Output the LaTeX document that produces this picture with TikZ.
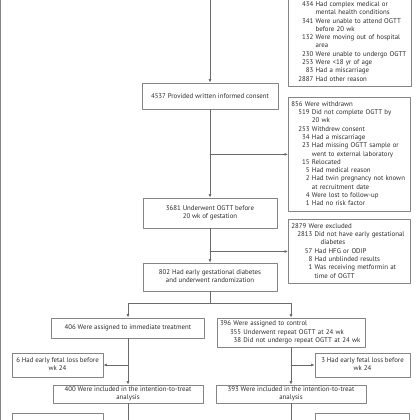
\documentclass[tikz,border=0pt]{standalone}
\usepackage{fontspec}
\setmainfont{PT Sans}
\usetikzlibrary{arrows.meta,positioning}

\definecolor{linegray}{HTML}{6A6A6A}
\definecolor{boxgray}{HTML}{858585}
\definecolor{txtgray}{HTML}{2A2A2A}

\tikzset{
  flowbox/.style={draw=boxgray, line width=0.8pt, text=txtgray,
    font=\fontsize{6.85}{8.3}\selectfont, align=center, inner sep=0pt},
  listbox/.style={draw=boxgray, line width=0.8pt, text=txtgray,
    font=\fontsize{6.85}{8.3}\selectfont, align=left, inner xsep=3pt, inner ysep=3pt},
  flow/.style={draw=linegray, line width=0.8pt},
  flowarr/.style={flow, -{Latex[length=3.5pt,width=3pt]}}
}
\newcommand{\hd}[1]{\multicolumn{2}{@{}l@{}}{#1}}
\newcommand{\twoline}[2]{\begin{tabular}{@{}c@{}}#1\\#2\end{tabular}}
\newenvironment{exlist}[1][7pt]{\begin{tabular}{@{\hspace{#1}}r@{\hspace{2.3pt}}l@{}}}{\end{tabular}}

\begin{document}
\begin{tikzpicture}[x=1pt,y=-1pt,line cap=round,line join=round]
  \path[use as bounding box,clip] (0,0) rectangle (420,420);
  % frame
  \draw[boxgray,line width=0.9pt] (0.8,-5) -- (0.8,425);

  % main column
  \node[flowbox, minimum width=136pt, minimum height=26pt] (consent) at (210,96) {4537 Provided written informed consent};
  \node[flowbox, minimum width=134pt, minimum height=30pt] (ogtt) at (210,213) {\twoline{3681 Underwent OGTT before}{20 wk of gestation}};
  \node[flowbox, minimum width=134pt, minimum height=28pt] (rand) at (210,277) {\twoline{802 Had early gestational diabetes}{and underwent randomization}};

  % exclusions on the right
  \node[listbox, text width=117pt, anchor=south west] (notelig) at (288,87) {\begin{exlist}
    \hd{\strut}\\
    & \strut\\
    434 & Had complex medical or\\
        & mental health conditions\\
    341 & Were unable to attend OGTT\\
        & before 20 wk\\
    132 & Were moving out of hospital\\
        & area\\
    230 & Were unable to undergo OGTT\\
    253 & Were <18 yr of age\\
    83 & Had a miscarriage\\
    2887 & Had other reason
  \end{exlist}};
  \node[listbox, text width=116pt, anchor=north west] (wd) at (288,97) {\begin{exlist}
    \hd{856 Were withdrawn}\\
    519 & Did not complete OGTT by\\
        & 20 wk\\
    253 & Withdrew consent\\
    34 & Had a miscarriage\\
    23 & Had missing OGTT sample or\\
       & went to external laboratory\\
    15 & Relocated\\
    5 & Had medical reason\\
    2 & Had twin pregnancy not known\\
      & at recruitment date\\
    4 & Were lost to follow-up\\
    1 & Had no risk factor
  \end{exlist}};
  \node[listbox, text width=116pt, anchor=north west] (exc) at (288,219) {\begin{exlist}[6pt]
    \hd{2879 Were excluded}\\
    2813 & Did not have early gestational\\
         & \hspace{6pt}diabetes\\
    57 & Had HFG or ODIP\\
    8 & Had unblinded results\\
    1 & Was receiving metformin at\\
      & time of OGTT
  \end{exlist}};

  % two arms
  \node[flowbox, minimum width=153pt, minimum height=20pt] (treat) at (128,328) {406 Were assigned to immediate treatment};
  \node[listbox, text width=142pt, inner xsep=3pt, inner ysep=2pt, minimum height=29pt] (ctrl) at (291,332.5) {\begin{exlist}[10pt]
    \hd{396 Were assigned to control}\\
    355 & Underwent repeat OGTT at 24 wk\\
    38 & Did not undergo repeat OGTT at 24 wk
  \end{exlist}};
  \node[flowbox, minimum width=91pt, minimum height=24pt] (loss1) at (57.5,365) {\twoline{6 Had early fetal loss before}{wk 24}};
  \node[flowbox, minimum width=95pt, minimum height=24pt] (loss2) at (362.5,365) {\twoline{3 Had early fetal loss before}{wk 24}};
  \node[flowbox, minimum width=150pt, minimum height=18pt] (itt1) at (128,394) {\twoline{400 Were included in the intention-to-treat}{analysis}};
  \node[flowbox, minimum width=150pt, minimum height=18pt] (itt2) at (291,394) {\twoline{393 Were included in the intention-to-treat}{analysis}};
  \node[listbox, text width=85pt, minimum height=30pt, anchor=north west] (exb1) at (12,413) {\hspace*{6pt}21 Were excluded};
  \node[listbox, text width=88pt, minimum height=30pt, anchor=north west] (exb2) at (315,413) {\hspace*{9pt}17 Were excluded};

  % connectors
  \coordinate (entry) at (210,-5);
  \coordinate (split) at (210,303);
  \coordinate (down1) at (128,430);
  \coordinate (down2) at (291,430);
  \draw[flowarr] (entry) -- (consent);
  \draw[flowarr] (consent) -- (ogtt);
  \draw[flowarr] (consent.south |- wd.west) -- (wd.west);
  \draw[flowarr] (ogtt) -- (rand);
  \draw[flowarr] (ogtt.south |- exc.west) -- (exc.west);
  \draw[flow] (rand) -- (split);
  \draw[flowarr] (split) -| (treat);
  \draw[flowarr] (split) -| (ctrl);
  \draw[flowarr] (treat) -- (itt1);
  \draw[flowarr] (treat.south |- loss1.east) -- (loss1.east);
  \draw[flowarr] (ctrl) -- (itt2);
  \draw[flowarr] (ctrl.south |- loss2.west) -- (loss2.west);
  \draw[flow] (itt1) -- (down1);
  \draw[flow] (itt2) -- (down2);
\end{tikzpicture}
\end{document}
